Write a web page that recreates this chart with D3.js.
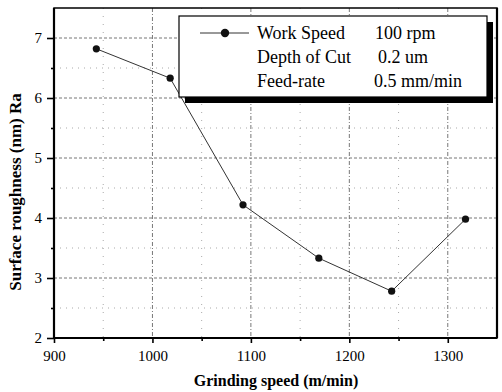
<!DOCTYPE html>
<html>
<head>
<meta charset="utf-8">
<script src="https://cdn.jsdelivr.net/npm/d3@7"></script>
<style>
  body { margin: 0; background: #fff; }
  svg text { font-family: "Liberation Serif", "Times New Roman", "DejaVu Serif", serif; }
</style>
</head>
<body>
<div id="chart"></div>
<script>
// grinding speed (m/min) vs surface roughness Ra (nm)
const speeds = [943, 1018, 1092, 1169, 1243, 1318];
const roughness = [6.82, 6.33, 4.22, 3.33, 2.78, 3.98];
const xTicks = [900, 1000, 1100, 1200, 1300];
const yTicks = [2, 3, 4, 5, 6, 7];
const legendRows = [
  ['Work Speed', '100 rpm'],
  ['Depth of Cut', '0.2 um'],
  ['Feed-rate', '0.5 mm/min']
];

const W = 502, H = 392;
const m = { top: 8, right: 5, bottom: 54, left: 54 };

const x = d3.scaleLinear().domain([900, 1350]).range([m.left, W - m.right]);
const y = d3.scaleLinear().domain([2, 7.5]).range([H - m.bottom, m.top]);

const svg = d3.select('#chart').append('svg')
  .attr('width', W).attr('height', H);

// grid: majors dashed, minors dotted
const grid = svg.append('g');
grid.selectAll('line.hmaj').data(yTicks.slice(1)).enter().append('line')
  .attr('x1', m.left).attr('x2', W - m.right)
  .attr('y1', d => y(d)).attr('y2', d => y(d))
  .attr('stroke', '#777').attr('stroke-width', 1)
  .attr('stroke-dasharray', '3,2');
grid.selectAll('line.hmin').data(d3.range(2.5, 7.5, 1)).enter().append('line')
  .attr('x1', m.left).attr('x2', W - m.right)
  .attr('y1', d => y(d)).attr('y2', d => y(d))
  .attr('stroke', '#aaa').attr('stroke-width', 1)
  .attr('stroke-dasharray', '1,5');
grid.selectAll('line.vmaj').data(xTicks.slice(1)).enter().append('line')
  .attr('y1', m.top).attr('y2', H - m.bottom)
  .attr('x1', d => x(d)).attr('x2', d => x(d))
  .attr('stroke', '#777').attr('stroke-width', 1)
  .attr('stroke-dasharray', '4,2,1,2');
grid.selectAll('line.vmin').data(d3.range(950, 1350, 100)).enter().append('line')
  .attr('y1', m.top).attr('y2', H - m.bottom)
  .attr('x1', d => x(d)).attr('x2', d => x(d))
  .attr('stroke', '#aaa').attr('stroke-width', 1)
  .attr('stroke-dasharray', '1,7');

// frame
svg.append('rect')
  .attr('x', m.left).attr('y', m.top)
  .attr('width', W - m.right - m.left).attr('height', H - m.bottom - m.top)
  .attr('fill', 'none').attr('stroke', '#000').attr('stroke-width', 1.5);
svg.append('line')
  .attr('x1', m.left).attr('x2', m.left)
  .attr('y1', m.top).attr('y2', H - m.bottom)
  .attr('stroke', '#000').attr('stroke-width', 2.2);
svg.append('line')
  .attr('x1', m.left).attr('x2', W - m.right)
  .attr('y1', H - m.bottom).attr('y2', H - m.bottom)
  .attr('stroke', '#000').attr('stroke-width', 2.2);
svg.append('line')
  .attr('x1', W - m.right).attr('x2', W - m.right)
  .attr('y1', m.top).attr('y2', H - m.bottom)
  .attr('stroke', '#000').attr('stroke-width', 2.2);

// axes
svg.append('g')
  .attr('transform', `translate(0,${H - m.bottom})`)
  .call(d3.axisBottom(x).tickValues(xTicks).tickSize(5).tickPadding(7).tickFormat(d3.format('d')));
svg.append('g')
  .attr('transform', `translate(0,${H - m.bottom})`)
  .call(d3.axisBottom(x).tickValues(d3.range(950, 1350, 100)).tickSize(3).tickFormat(''));
svg.append('g')
  .attr('transform', `translate(${m.left},0)`)
  .call(d3.axisLeft(y).tickValues(yTicks).tickSize(7).tickPadding(5).tickFormat(d3.format('d')));
svg.append('g')
  .attr('transform', `translate(${m.left},0)`)
  .call(d3.axisLeft(y).tickValues(d3.range(2.5, 7.5, 1)).tickSize(3).tickFormat(''));
svg.selectAll('.domain').remove();
svg.selectAll('.tick line').attr('stroke', '#000').attr('stroke-width', 1.6);
svg.selectAll('.tick text')
  .attr('font-size', 15).attr('fill', '#000');

// series
const pts = speeds.map((s, i) => [s, roughness[i]]);
svg.append('path')
  .datum(pts)
  .attr('fill', 'none').attr('stroke', '#333').attr('stroke-width', 1)
  .attr('d', d3.line().x(d => x(d[0])).y(d => y(d[1])));
svg.selectAll('circle.pt').data(pts).enter().append('circle')
  .attr('cx', d => x(d[0])).attr('cy', d => y(d[1]))
  .attr('r', 3.6).attr('fill', '#111');

// legend with drop shadow
const lg = svg.append('g');
const lx = 179, ly = 16, lw = 308, lh = 81;
lg.append('rect').attr('x', lx + 6).attr('y', ly + 6)
  .attr('width', lw).attr('height', lh).attr('fill', '#000');
lg.append('rect').attr('x', lx).attr('y', ly)
  .attr('width', lw).attr('height', lh)
  .attr('fill', '#fff').attr('stroke', '#000').attr('stroke-width', 1.2);
lg.append('line').attr('x1', 200).attr('x2', 249).attr('y1', 33).attr('y2', 33)
  .attr('stroke', '#333').attr('stroke-width', 1);
lg.append('circle').attr('cx', 225).attr('cy', 33).attr('r', 4.2).attr('fill', '#111');
lg.selectAll('text.k').data(legendRows).enter().append('text')
  .attr('x', 257).attr('y', (d, i) => 39 + i * 24)
  .attr('font-size', 18).text(d => d[0]);
lg.selectAll('text.v').data(legendRows).enter().append('text')
  .attr('x', (d, i) => [375, 378, 374][i]).attr('y', (d, i) => 39 + i * 24)
  .attr('font-size', 18).text(d => d[1]);

// titles
svg.append('text')
  .attr('x', 276).attr('y', 386)
  .attr('text-anchor', 'middle').attr('font-weight', 'bold').attr('font-size', 16)
  .text('Grinding speed (m/min)');
svg.append('text')
  .attr('transform', `translate(21,192) rotate(-90)`)
  .attr('text-anchor', 'middle').attr('font-weight', 'bold').attr('font-size', 17)
  .text('Surface roughness (nm)  Ra');
</script>
</body>
</html>
